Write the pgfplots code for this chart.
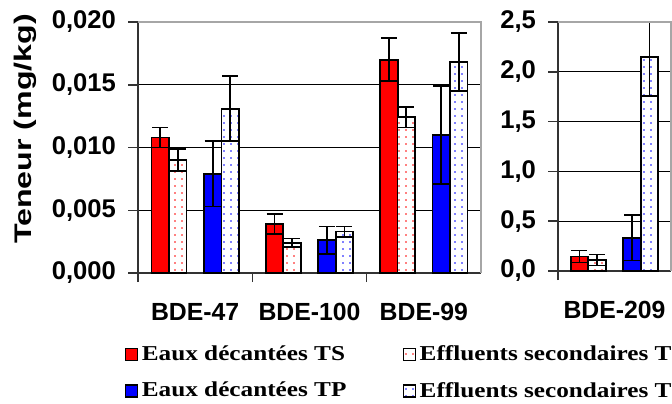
\documentclass[border=0pt]{standalone}
\usepackage{fontspec}
\setmainfont{Liberation Serif}
\setsansfont{Liberation Sans}
\newfontfamily\legfont[FakeStretch=1.19]{Liberation Serif}
\newfontfamily\ylabfont[FakeStretch=1.34]{Liberation Sans}
\usepackage{pgfplots}
\pgfplotsset{compat=1.18}
\usetikzlibrary{patterns.meta}
\pgfplotsset{
  panel/.style={
    scale only axis,
    axis lines*=left,
    ymajorgrids,
    major grid style={black, line width=0.5pt},
    axis line style={black!80, line width=0.75pt},
    tick align=outside,
    major tick length=5pt,
    minor tick length=4.5pt,
    major x tick style={draw=none},
    minor x tick style={black!80, line width=0.75pt},
    major y tick style={black!80, line width=0.75pt},
    scaled y ticks=false,
    yticklabel style={font=\sffamily\bfseries\fontsize{12.8}{14}\selectfont, xshift=-2.5pt},
    xticklabel style={font=\sffamily\bfseries\fontsize{12.4}{14}\selectfont, anchor=base, yshift=-18.5pt},
    error bars/y dir=both,
    error bars/y explicit,
    error bars/error bar style={black, line width=0.9pt},
    error bars/error mark options={rotate=90, mark size=4pt, line width=0.9pt, black},
    after end axis/.code={\draw[gray!70, line width=0.75pt] (rel axis cs:0,1) -- (rel axis cs:1,1) -- (rel axis cs:1,0);},
    legend image code/.code={\draw[#1, line width=0.6pt] (0pt,-3pt) rectangle (6pt,3pt);},
  },
  eauxTS/.style={ybar, bar width=8.75pt, /pgf/bar shift=0pt, fill=red, draw=black, line width=0.9pt},
  effTS/.style={ybar, bar width=8.75pt, /pgf/bar shift=0pt, fill=white, draw=black, line width=0.9pt,
    postaction={pattern={Dots[distance=3.5pt,radius=0.45pt]}, pattern color=red}},
  eauxTP/.style={ybar, bar width=8.75pt, /pgf/bar shift=0pt, fill=blue, draw=black, line width=0.9pt},
  effTP/.style={ybar, bar width=8.75pt, /pgf/bar shift=0pt, fill=white, draw=black, line width=0.9pt,
    postaction={pattern={Dots[distance=3.5pt,radius=0.45pt]}, pattern color=blue}},
}
\begin{document}
\begin{tikzpicture}
\path[use as bounding box] (0,0) rectangle (336pt,201.5pt);
\begin{axis}[panel,
  at={(69pt,65pt)}, anchor=south west,
  width=171.5pt, height=125.5pt,
  xmin=-0.5, xmax=2.5,
  xtick={0,1,2}, xticklabels={BDE-47,BDE-100,BDE-99},
  minor xtick={-0.5,0.5,1.5},
  ymin=0, ymax=0.02,
  ytick={0,0.005,0.01,0.015,0.02},
  yticklabels={{0,000},{0,005},{0,010},{0,015},{0,020}},
  ylabel={Teneur (mg/kg)},
  ylabel style={font=\ylabfont\bfseries\fontsize{12}{14}\selectfont, at={(axis description cs:-0.329,0.574)}, anchor=center},
  legend columns=2,
  legend cell align=left,
  legend style={draw=none, fill=none, inner sep=0pt,
    font=\legfont\bfseries\fontsize{10.6}{12}\selectfont,
    at={(axis description cs:-0.04,-0.27)}, anchor=north west,
    /tikz/every even column/.append style={column sep=26pt},
    row sep=5.5pt},
]
% Eaux decantees TS
\addplot[eauxTS] coordinates {(-0.306,0.0108) +- (0,0.0008) (0.694,0.0039) +- (0,0.0008) (1.694,0.0170) +- (0,0.0017)};
\addlegendentry{Eaux décantées TS}
% Effluents secondaires TS
\addplot[effTS] coordinates {(-0.153,0.0090) +- (0,0.0009) (0.847,0.0024) +- (0,0.00035) (1.847,0.0124) +- (0,0.0008)};
\addlegendentry{Effluents secondaires TS}
% Eaux decantees TP
\addplot[eauxTP] coordinates {(0.153,0.0079) +- (0,0.0026) (1.153,0.0026) +- (0,0.0011) (2.153,0.0110) +- (0,0.0039)};
\addlegendentry{Eaux décantées TP}
% Effluents secondaires TP
\addplot[effTP] coordinates {(0.306,0.0131) +- (0,0.0026) (1.306,0.0033) +- (0,0.0004) (2.306,0.0168) +- (0,0.0023)};
\addlegendentry{Effluents secondaires TP}
\end{axis}
\begin{axis}[panel,
  at={(279pt,66pt)}, anchor=south west,
  width=56.5pt, height=124.5pt,
  xmin=-0.5, xmax=0.5,
  xtick={0}, xticklabels={BDE-209},
  minor xtick={-0.5},
  ymin=0, ymax=2.5,
  ytick={0,0.5,1,1.5,2,2.5},
  yticklabels={{0,0},{0,5},{1,0},{1,5},{2,0},{2,5}},
]
\addplot[eauxTS] coordinates {(-0.31,0.145) +- (0,0.06)};
\addplot[effTS] coordinates {(-0.155,0.11) +- (0,0.055)};
\addplot[eauxTP] coordinates {(0.155,0.335) +- (0,0.23)};
\addplot[effTP] coordinates {(0.31,2.15) +- (0,0.39)};
\end{axis}
\end{tikzpicture}
\end{document}
